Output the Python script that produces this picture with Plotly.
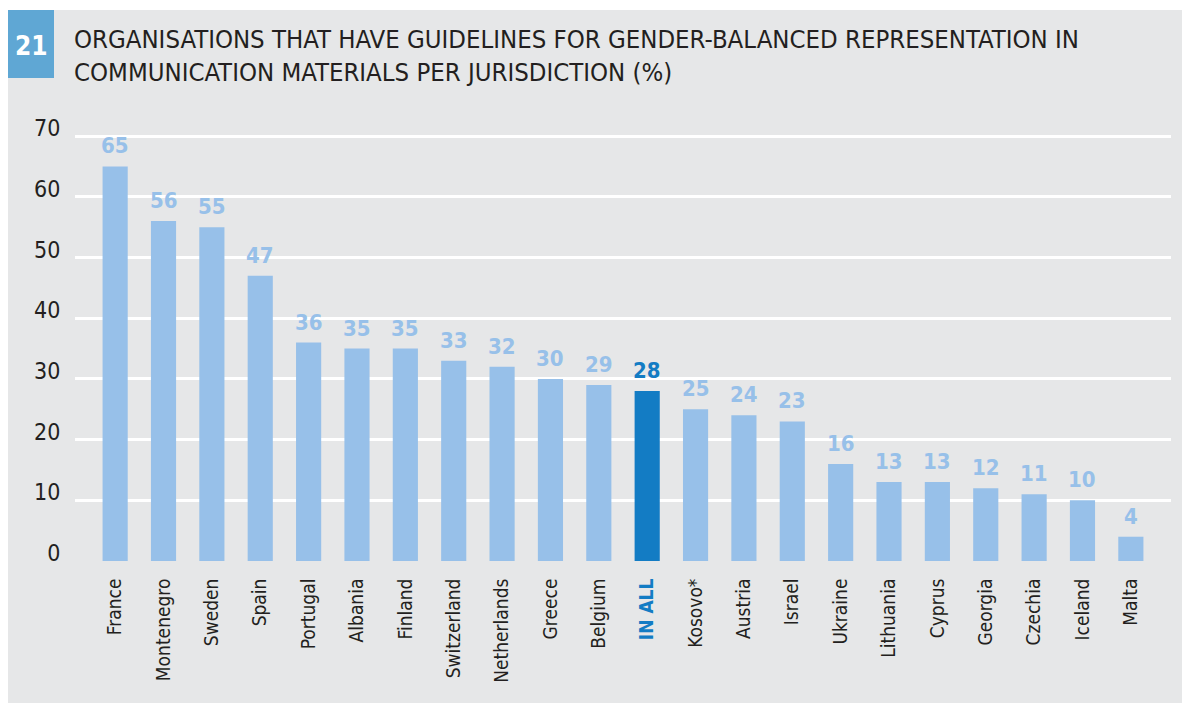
import plotly.graph_objects as go

categories = ["France", "Montenegro", "Sweden", "Spain", "Portugal", "Albania", "Finland",
              "Switzerland", "Netherlands", "Greece", "Belgium", "IN ALL", "Kosovo*", "Austria",
              "Israel", "Ukraine", "Lithuania", "Cyprus", "Georgia", "Czechia", "Iceland", "Malta"]
values = [65, 56, 55, 47, 36, 35, 35, 33, 32, 30, 29, 28, 25, 24, 23, 16, 13, 13, 12, 11, 10, 4]
highlight = "IN ALL"
y_ticks = [0, 10, 20, 30, 40, 50, 60, 70]

LIGHT = "#97c0e9"
DARK = "#137cc4"
TEXT = "#231f20"
BG = "#e6e7e8"
BOX = "#5fa7d4"
FONT = "Liberation Sans Narrow, DejaVu Sans Condensed, Roboto, sans-serif"

# page has an 8px body margin, so the figure is drawn 8px smaller
W, H = 1182, 697
L, R, T, B = 67, 19, 116, 144
pw, ph = W - L - R, H - T - B

def px_x(x):
    return (x - L) / pw

def px_y(y):
    return (H - B - y) / ph

colors = [DARK if c == highlight else LIGHT for c in categories]
xs = list(range(len(categories)))
ticktext = [f"<b><span style='color:{DARK}'>{c}</span></b>" if c == highlight else c for c in categories]

fig = go.Figure()
fig.add_trace(go.Bar(
    x=xs, y=values, width=0.52, marker=dict(color=colors, line=dict(width=0)),
    hoverinfo="skip",
))

value_annotations = [
    dict(x=x, y=v, xref="x", yref="y", text=f"<b>{v}</b>", showarrow=False,
         xanchor="center", yanchor="bottom", yshift=6,
         font=dict(family=FONT, size=22, color=c))
    for x, v, c in zip(xs, values, colors)
]

fig.update_layout(
    width=W, height=H,
    margin=dict(l=L, r=R, t=T, b=B),
    paper_bgcolor="white", plot_bgcolor="rgba(0,0,0,0)",
    showlegend=False,
    font=dict(family=FONT, color=TEXT),
    xaxis=dict(range=[-0.83, 21.83], tickmode="array", tickvals=xs, ticktext=ticktext,
               tickangle=-90, tickfont=dict(size=19, color=TEXT), showgrid=False,
               zeroline=False, showline=False, ticks="outside", ticklen=9,
               tickcolor="rgba(0,0,0,0)"),
    yaxis=dict(range=[0, 72], tickmode="array", tickvals=y_ticks,
               tickfont=dict(size=23, color=TEXT), showgrid=True, gridcolor="white",
               gridwidth=2.5, zeroline=False, showline=False, ticks="outside",
               ticklen=9, tickcolor="rgba(0,0,0,0)", ticklabelshift=-8),
    shapes=[
        dict(type="rect", xref="paper", yref="paper", x0=px_x(0), x1=px_x(W),
             y0=px_y(695), y1=px_y(2), fillcolor=BG, line=dict(width=0), layer="below"),
        dict(type="rect", xref="paper", yref="paper", x0=px_x(0), x1=px_x(46),
             y0=px_y(70), y1=px_y(2), fillcolor=BOX, line=dict(width=0), layer="below"),
    ],
    annotations=value_annotations + [
        dict(text="<b>21</b>", xref="paper", yref="paper", x=px_x(23), y=px_y(38),
             xanchor="center", yanchor="middle", showarrow=False,
             font=dict(family=FONT, size=26, color="white")),
        dict(text="ORGANISATIONS THAT HAVE GUIDELINES FOR GENDER-BALANCED REPRESENTATION IN<br>"
                  "COMMUNICATION MATERIALS PER JURISDICTION (%)",
             xref="paper", yref="paper", x=px_x(64), y=px_y(14), xanchor="left", yanchor="top",
             align="left", showarrow=False, font=dict(family=FONT, size=25.5, color=TEXT)),
    ],
)

fig.write_html("out.html")
